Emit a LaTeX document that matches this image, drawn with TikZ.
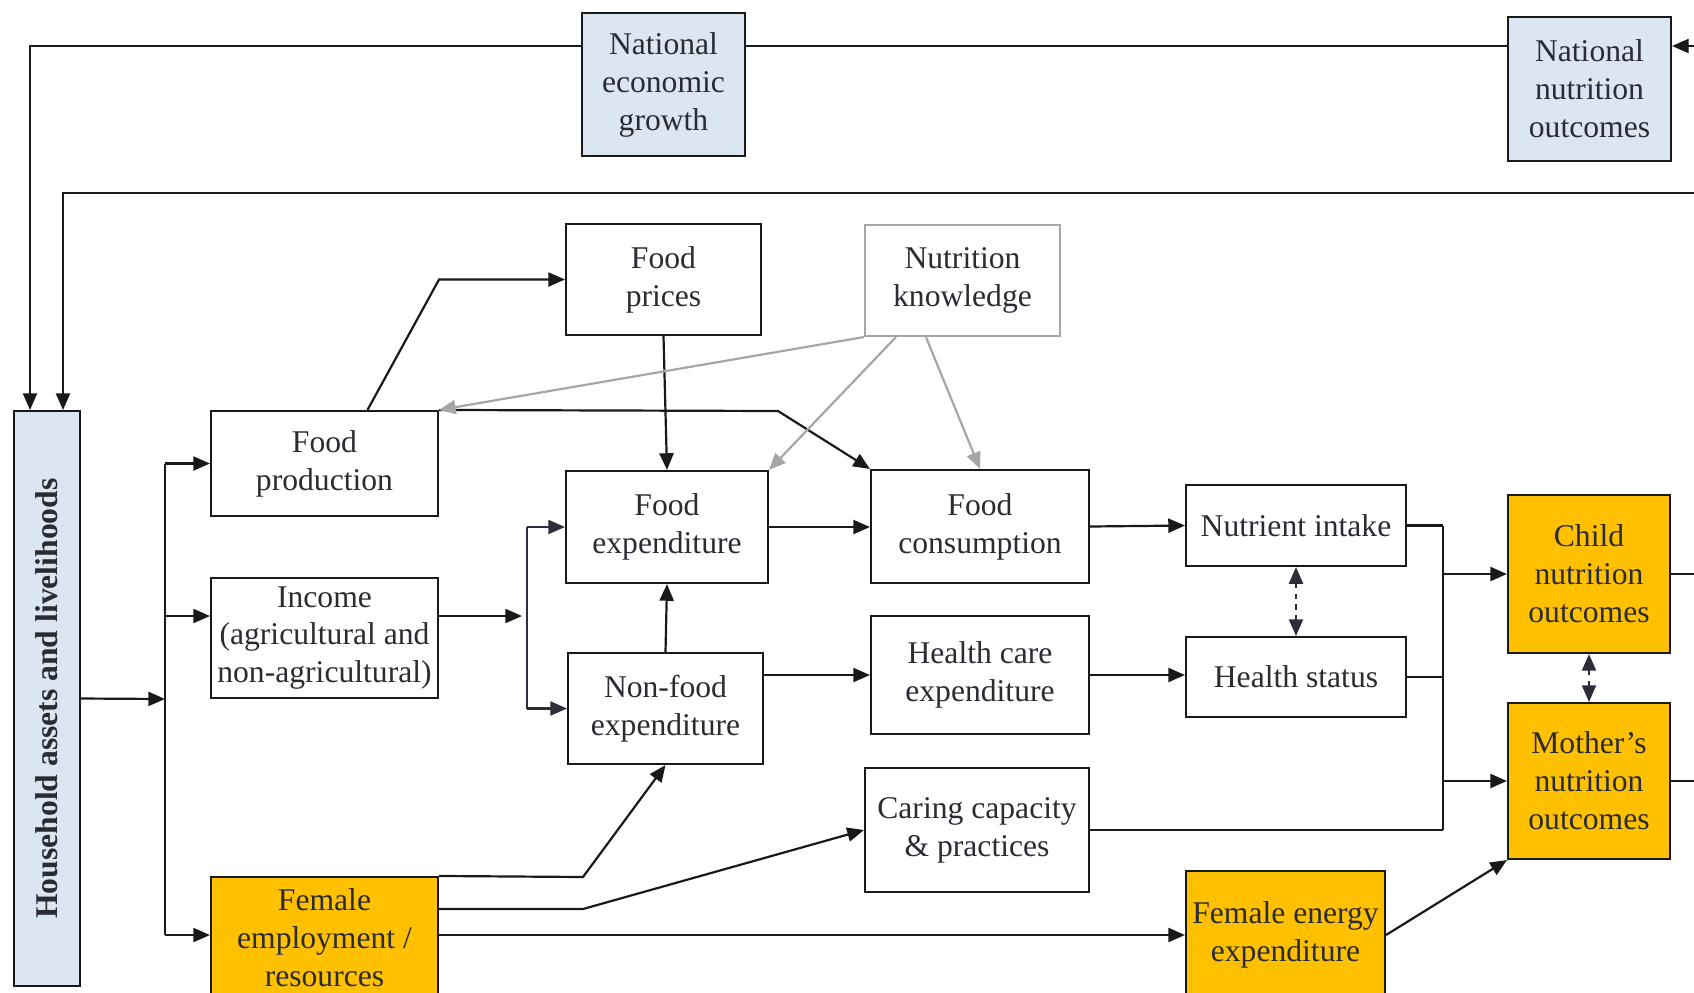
\documentclass[tikz,border=0pt]{standalone}
\usepackage{fontspec}
\setmainfont{Liberation Serif}
\usetikzlibrary{arrows.meta}

\definecolor{natblue}{HTML}{DCE6F2}
\definecolor{femgold}{HTML}{FFC000}
\definecolor{knowgray}{HTML}{A6A6A6}
\definecolor{inkgray}{HTML}{2B2B33}
\definecolor{busgray}{HTML}{2E2E3A}

\tikzset{
  >={Triangle[length=9.5pt,width=8pt]},
  box/.style={draw=black!90, line width=1.2pt, align=center, inner sep=1pt,
    text=inkgray, font=\fontsize{18}{21.6}\selectfont},
  natbox/.style={box, fill=natblue},
  fembox/.style={box, fill=femgold},
  grayb/.style={box, draw=knowgray},
  flow/.style={line width=1.25pt, draw=black!90},
  hint/.style={line width=1.25pt, draw=knowgray, ->},
  link/.style={line width=1.25pt, draw=busgray, dashed, <->}
}

\begin{document}
\begin{tikzpicture}[x=0.02cm, y=-0.02cm]
\useasboundingbox (0,0) rectangle (1694,992);

% National level
\node[natbox, minimum width=3.26cm, minimum height=2.86cm] (neg) at (663.5,84.5) {National\\economic\\growth};
\node[natbox, minimum width=3.26cm, minimum height=2.88cm] (nno) at (1589.5,89) {National\\nutrition\\outcomes};

% Household
\node[natbox, rotate=90, minimum width=11.5cm, minimum height=1.32cm, font=\fontsize{18}{21.6}\selectfont\bfseries] (hh) at (47,698.5) {Household assets and livelihoods};

% Boxes
\node[box, minimum width=4.54cm, minimum height=2.10cm] (fprod) at (324.5,463.5) {Food\\production};
\node[box, minimum width=4.54cm, minimum height=2.40cm] (inc) at (324.5,638) {Income\\(agricultural and\\non-agricultural)};
\node[fembox, minimum width=4.54cm, minimum height=2.44cm] (femp) at (324.5,938) {Female\\employment /\\resources};
\node[box, minimum width=3.90cm, minimum height=2.22cm] (fpri) at (663.5,279.5) {Food\\prices};
\node[grayb, minimum width=3.90cm, minimum height=2.22cm] (nk) at (962.5,280.5) {Nutrition\\knowledge};
\node[box, minimum width=4.04cm, minimum height=2.24cm] (fexp) at (667,527) {Food\\expenditure};
\node[box, minimum width=4.36cm, minimum height=2.26cm] (fcon) at (980,526.5) {Food\\consumption};
\node[box, minimum width=3.90cm, minimum height=2.22cm] (nfexp) at (665.5,708.5) {Non-food\\expenditure};
\node[box, minimum width=4.36cm, minimum height=2.36cm] (hcexp) at (980,675) {Health care\\expenditure};
\node[box, minimum width=4.48cm, minimum height=2.48cm] (care) at (977,830) {Caring capacity\\\& practices};
\node[box, minimum width=4.40cm, minimum height=1.62cm] (nint) at (1296,525.5) {Nutrient intake};
\node[box, minimum width=4.40cm, minimum height=1.60cm] (hstat) at (1296,677) {Health status};
\node[fembox, minimum width=3.98cm, minimum height=2.56cm] (fee) at (1285.5,935) {Female energy\\expenditure};
\node[fembox, minimum width=3.24cm, minimum height=3.16cm] (child) at (1589,574) {Child\\nutrition\\outcomes};
\node[fembox, minimum width=3.24cm, minimum height=3.12cm] (mother) at (1589,781) {Mother's\\nutrition\\outcomes};

% Bends and free ends
\coordinate (rimA) at (1694,46);
\coordinate (rimB) at (1694,193);
\coordinate (topL) at (30,46);
\coordinate (topR) at (63,193);
\coordinate (busA) at (165,699);
\coordinate (busB) at (527,616);
\coordinate (busC) at (1443,577);
\coordinate (bendC) at (778,411);
\coordinate (bendD) at (583,877);
\coordinate (bendE) at (583,909);

% Feedback loops
\draw[flow, ->] (rimA) -- (rimA -| nno.east);
\draw[flow] (rimA -| nno.west) -- (rimA -| neg.east);
\draw[flow, ->] (rimA -| neg.west) -- (topL) -- (topL |- hh.east);
\draw[flow, ->] (rimB) -- (topR) -- (topR |- hh.east);

% Household bus
\draw[flow, ->] (hh.south) -- (busA);
\draw[flow] (busA |- fprod.west) -- (busA |- fee.west);
\draw[flow, ->] (busA |- fprod.west) -- (fprod.west);
\draw[flow, ->] (busA |- busB) -- (inc.west |- busB);
\draw[flow, ->] (busA |- fee.west) -- (femp.west |- fee.west);

% Food side
\draw[flow, ->] ([xshift=0.86cm]fprod.north) -- (fprod.north east |- fpri.west) -- (fpri.west);
\draw[flow, ->] (fprod.north east) -- (bendC) -- (fcon.north west);
\draw[flow, ->] (fpri.south) -- (fexp.north);
\draw[hint] (nk.south west) -- (fprod.north east);
\draw[hint] ([xshift=0.64cm]nk.south west) -- (fexp.north east);
\draw[hint] ([xshift=1.24cm]nk.south west) -- (fcon.north);

% Income bus
\draw[flow, ->] (inc.east |- busB) -- ([xshift=-0.1cm]busB);
\draw[line width=1.25pt, draw=busgray] (busB |- fexp.west) -- (busB |- nfexp.west);
\draw[line width=1.25pt, draw=busgray, ->] (busB |- fexp.west) -- (fexp.west);
\draw[line width=1.25pt, draw=busgray, ->] (busB |- nfexp.west) -- (nfexp.west);

% Transitions
\draw[flow, ->] (nfexp.north) -- (fexp.south);
\draw[flow, ->] (hcexp.west -| nfexp.east) -- (hcexp.west);
\draw[flow, ->] (femp.north east) -- (bendD) -- (nfexp.south);
\draw[flow, ->] (bendE -| femp.east) -- (bendE) -- (care.west);
\draw[flow, ->] (femp.east |- fee.west) -- (fee.west);
\draw[flow, ->] (fexp.east) -- (fexp.east -| fcon.west);
\draw[flow, ->] (fcon.east) -- (nint.west);
\draw[flow, ->] (hcexp.east) -- (hcexp.east -| hstat.west);
\draw[link] (nint.south) -- (hstat.north);

% Outcome bus
\draw[flow] (nint.east) -- (nint.east -| busC);
\draw[flow] (hstat.east) -- (hstat.east -| busC);
\draw[flow] (care.east) -- (care.east -| busC);
\draw[flow] (busC |- nint.east) -- (busC |- care.east);
\draw[flow, ->] (busC |- child.west) -- (child.west);
\draw[flow, ->] (busC |- mother.west) -- (mother.west);
\draw[link] (child.south) -- (mother.north);
\draw[flow, ->] (fee.east) -- (mother.south west);
\draw[flow] (child.east) -- (child.east -| rimA);
\draw[flow] (mother.east) -- (mother.east -| rimA);

\end{tikzpicture}
\end{document}
